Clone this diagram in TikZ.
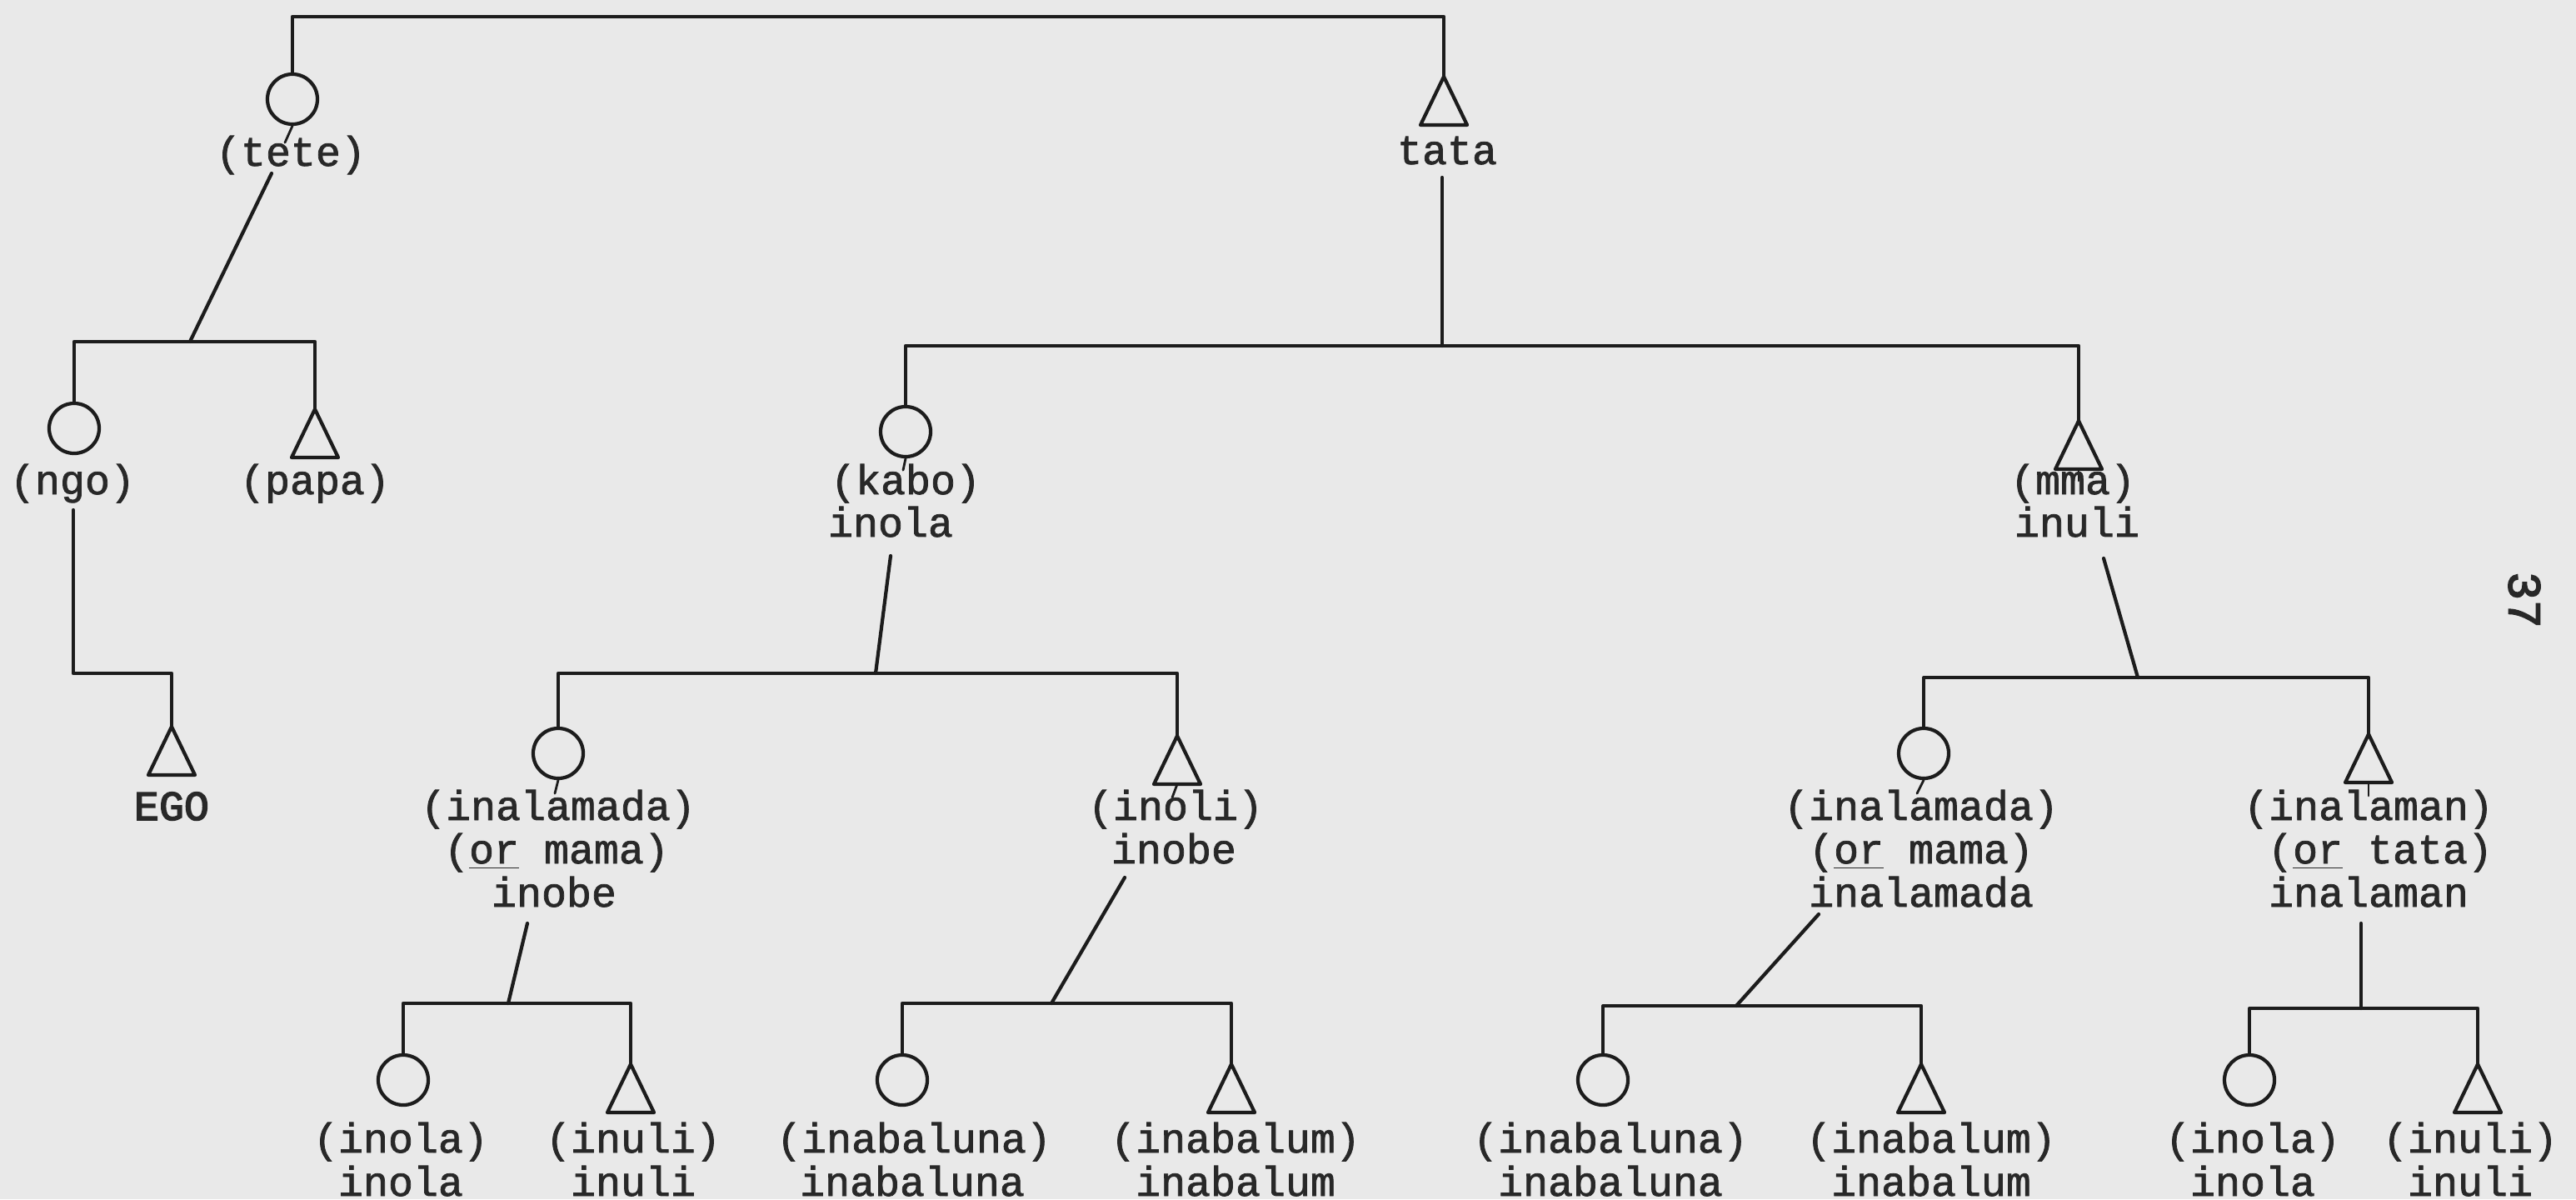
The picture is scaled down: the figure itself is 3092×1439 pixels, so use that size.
\documentclass[tikz,border=0pt]{standalone}
\usepackage{fontspec}
\newfontfamily\kinfont[FakeBold=1.5]{Liberation Mono}
\newfontfamily\kinbold[FakeBold=3]{Liberation Mono}
\definecolor{paper}{RGB}{233,233,233}
\definecolor{ink}{RGB}{28,28,28}
\definecolor{typeink}{RGB}{40,40,40}
\newcommand\kintri[3]{%
  \coordinate (#1) at (#2,#3);
  \draw[ln] (#1) -- ++(-28,58) -- ++(56,0) -- cycle;
  \coordinate (#1b) at (#2,#3+58);}
\begin{document}
\begin{tikzpicture}[x=0.01cm,y=-0.01cm,
  ln/.style={draw=ink,line width=1.2pt,line cap=round,line join=round},
  tick/.style={draw=ink,line width=0.8pt,line cap=round},
  fem/.style={circle,draw=ink,line width=1.2pt,minimum size=0.6cm,inner sep=0pt},
  lbl/.style={font=\fontsize{14.2pt}{14.8pt}\kinfont,text=typeink,anchor=base,inner sep=0pt},
  lblb/.style={font=\fontsize{14.2pt}{14.8pt}\kinbold,text=typeink,anchor=base,inner sep=0pt}]
\fill[paper] (0,0) rectangle (3092,1439);
\useasboundingbox (0,0) rectangle (3092,1439);

% ---- generation 0
\coordinate (top) at (1000,20);
\node[fem] (tete) at (351,119) {};
\kintri{tata}{1733}{92}
\draw[ln] (tete.north) -- (tete.north |- top) -| (tata);
\node[lbl] (teteL) at (349,199) {(tete)};
\node[lbl] (tataL) at (1737,197) {tata};
\draw[tick] (tete.south) -- ++(-9,20);

% ---- tete's children
\coordinate (teteD) at (326,208);
\coordinate (barA) at (228,410);
\node[fem] (ngo) at (89,514) {};
\kintri{papa}{378}{491}
\draw[ln] (teteD) -- (barA);
\draw[ln] (ngo.north) |- (barA) -| (papa);
\node[lbl] (ngoL) at (87,593) {(ngo)};
\node[lbl] (papaL) at (378,593) {(papa)};

% ---- EGO
\coordinate (ngoD) at (88,612);
\coordinate (barC) at (150,808);
\kintri{ego}{206}{872}
\draw[ln] (ngoD) |- (barC) -| (ego);
\node[lblb] (egoL) at (206,984) {EGO};

% ---- tata's children
\coordinate (tataD) at (1731,213);
\coordinate (barB) at (1731,415);
\node[fem] (kabo) at (1087,518) {};
\kintri{mma}{2495}{505}
\draw[ln] (tataD) -- (barB);
\draw[ln] (kabo.north) |- (barB) -| (mma);
\draw[tick] (kabo.south) -- ++(-3,14);
\draw[tick] (mmab) -- ++(0,14);
\node[lbl] (kaboL) at (1087,593) {(kabo)};
\node[lbl] (kaboM) at (1069,644) {inola};
\node[lbl] (mmaL) at (2488,593) {(mma)};
\node[lbl] (mmaM) at (2493,644) {inuli};

% ---- kabo's children
\coordinate (kaboD) at (1069,667);
\coordinate (barD) at (1051,808);
\node[fem] (inaL) at (670,904) {};
\kintri{inoli}{1413}{883}
\draw[ln] (kaboD) -- (barD);
\draw[ln] (inaL.north) |- (barD) -| (inoli);
\draw[tick] (inaL.south) -- ++(-4,16);
\draw[tick] (inolib) -- ++(-6,16);
\node[lbl] (inaLA) at (670,984) {(inalamada)};
\node[lbl] (inaLB) at (668,1036) {(\underline{or} mama)};
\node[lbl] (inaLC) at (665,1088) {inobe};
\node[lbl] (inoliA) at (1411,984) {(inoli)};
\node[lbl] (inoliB) at (1409,1036) {inobe};

% ---- mma's children
\coordinate (mmaD) at (2525,670);
\coordinate (barE) at (2566,813);
\node[fem] (inaR) at (2309,904) {};
\kintri{inalaman}{2843}{881}
\draw[ln] (mmaD) -- (barE);
\draw[ln] (inaR.north) |- (barE) -| (inalaman);
\draw[tick] (inaR.south) -- ++(-8,16);
\draw[tick] (inalamanb) -- ++(0,16);
\node[lbl] (inaRA) at (2306,984) {(inalamada)};
\node[lbl] (inaRB) at (2306,1036) {(\underline{or} mama)};
\node[lbl] (inaRC) at (2306,1088) {inalamada};
\node[lbl] (inalamanA) at (2843,984) {(inalaman)};
\node[lbl] (inalamanB) at (2857,1036) {(\underline{or} tata)};
\node[lbl] (inalamanC) at (2843,1088) {inalaman};

% ---- inalamada (left) children
\coordinate (inaLD) at (633,1108);
\coordinate (barF) at (610,1204);
\node[fem] (fa) at (484,1296) {};
\kintri{fb}{757}{1277}
\draw[ln] (inaLD) -- (barF);
\draw[ln] (fa.north) |- (barF) -| (fb);
\node[lbl] (faA) at (481,1383) {(inola)};
\node[lbl] (faB) at (481,1435) {inola};
\node[lbl] (fbA) at (760,1383) {(inuli)};
\node[lbl] (fbB) at (760,1435) {inuli};

% ---- inoli's children
\coordinate (inoliD) at (1350,1053);
\coordinate (barG) at (1262,1204);
\node[fem] (ga) at (1083,1296) {};
\kintri{gb}{1478}{1277}
\draw[ln] (inoliD) -- (barG);
\draw[ln] (ga.north) |- (barG) -| (gb);
\node[lbl] (gaA) at (1097,1383) {(inabaluna)};
\node[lbl] (gaB) at (1095,1435) {inabaluna};
\node[lbl] (gbA) at (1483,1383) {(inabalum)};
\node[lbl] (gbB) at (1483,1435) {inabalum};

% ---- inalamada (right) children
\coordinate (inaRD) at (2183,1097);
\coordinate (barH) at (2084,1207);
\node[fem] (ha) at (1924,1296) {};
\kintri{hb}{2306}{1277}
\draw[ln] (inaRD) -- (barH);
\draw[ln] (ha.north) |- (barH) -| (hb);
\node[lbl] (haA) at (1933,1383) {(inabaluna)};
\node[lbl] (haB) at (1933,1435) {inabaluna};
\node[lbl] (hbA) at (2318,1383) {(inabalum)};
\node[lbl] (hbB) at (2318,1435) {inabalum};

% ---- inalaman's children
\coordinate (inalamanD) at (2834,1108);
\coordinate (barI) at (2834,1210);
\node[fem] (ia) at (2700,1296) {};
\kintri{ib}{2974}{1277}
\draw[ln] (inalamanD) -- (barI);
\draw[ln] (ia.north) |- (barI) -| (ib);
\node[lbl] (iaA) at (2704,1383) {(inola)};
\node[lbl] (iaB) at (2704,1435) {inola};
\node[lbl] (ibA) at (2965,1383) {(inuli)};
\node[lbl] (ibB) at (2965,1435) {inuli};

% ---- page number
\node[font=\fontsize{16pt}{16pt}\kinbold,text=typeink,rotate=-90,inner sep=0pt] (pageno) at (3030,720) {37};
\end{tikzpicture}
\end{document}
